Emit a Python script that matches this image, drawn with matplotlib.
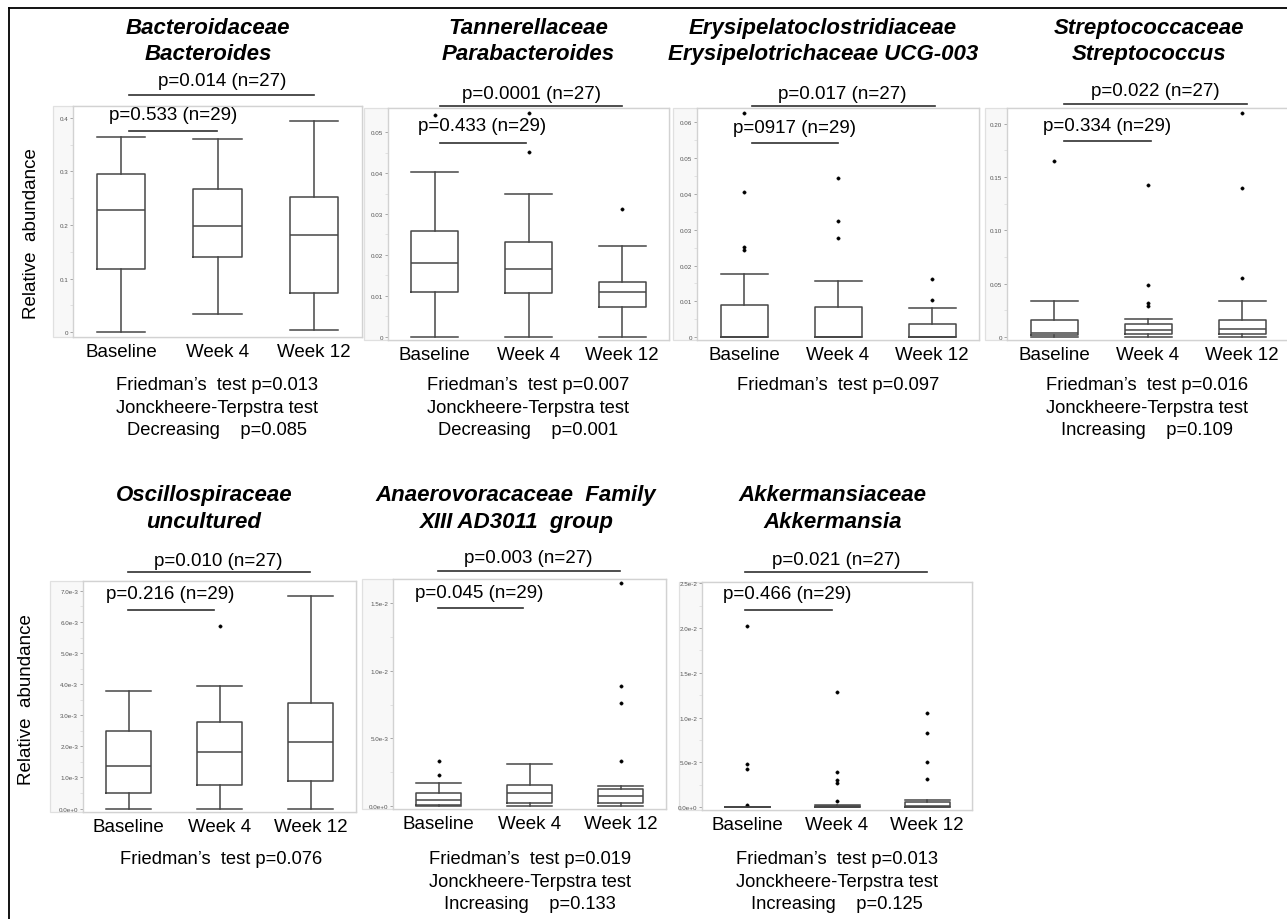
import matplotlib
matplotlib.use("Agg")
import matplotlib.pyplot as plt
import matplotlib.transforms as mtransforms
from matplotlib.lines import Line2D
from matplotlib.patches import Rectangle
from matplotlib.ticker import FixedLocator, FixedFormatter

plt.rcParams['font.family'] = ['Liberation Sans', 'DejaVu Sans']

W, H = 1287, 920

groups = ["Baseline", "Week 4", "Week 12"]

# five-number summaries per group: [low whisker, Q1, median, Q3, high whisker]
bacteroides_box = [[0.0, 0.118, 0.228, 0.295, 0.365],
                   [0.034, 0.141, 0.199, 0.268, 0.361],
                   [0.004, 0.073, 0.181, 0.253, 0.395]]
bacteroides_out = [[], [], []]

parabacteroides_box = [[0.0, 0.0109, 0.0179, 0.0259, 0.0403],
                       [0.0, 0.0106, 0.0166, 0.0231, 0.0348],
                       [0.0, 0.0073, 0.0109, 0.0134, 0.0222]]
parabacteroides_out = [[0.0543], [0.0451, 0.0546], [0.0311]]

ucg003_box = [[0.0, 0.0, 0.0, 0.0090, 0.0175],
              [0.0, 0.0, 0.0, 0.0085, 0.0156],
              [0.0, 0.0, 0.0, 0.0036, 0.0080]]
ucg003_out = [[0.0244, 0.0252, 0.0404, 0.0627], [0.0276, 0.0323, 0.0444], [0.0104, 0.0162]]

streptococcus_box = [[0.0, 0.0016, 0.0041, 0.0157, 0.0336],
                     [0.0, 0.0032, 0.0063, 0.0126, 0.0169],
                     [0.0, 0.0032, 0.0079, 0.0160, 0.0338]]
streptococcus_out = [[0.165], [0.0291, 0.0317, 0.0492, 0.143], [0.0558, 0.1397, 0.2103]]

uncultured_box = [[0.0, 0.50e-3, 1.37e-3, 2.49e-3, 3.78e-3],
                  [0.0, 0.77e-3, 1.83e-3, 2.78e-3, 3.93e-3],
                  [0.0, 0.89e-3, 2.14e-3, 3.38e-3, 6.84e-3]]
uncultured_out = [[], [5.88e-3], []]

ad3011_box = [[0.0, 0.07e-3, 0.40e-3, 0.92e-3, 1.68e-3],
              [0.0, 0.20e-3, 0.94e-3, 1.53e-3, 3.07e-3],
              [0.0, 0.20e-3, 0.70e-3, 1.24e-3, 1.48e-3]]
ad3011_out = [[2.30e-3, 3.33e-3], [], [3.29e-3, 7.63e-3, 8.89e-3, 16.5e-3]]

akkermansia_box = [[0.0, 0.0, 0.0, 0.0, 0.0],
                   [0.0, 0.0, 0.05e-3, 0.15e-3, 0.2e-3],
                   [0.0, 0.02e-3, 0.15e-3, 0.5e-3, 0.75e-3]]
akkermansia_out = [[0.19e-3, 4.2e-3, 4.77e-3, 20.2e-3],
                   [0.67e-3, 2.65e-3, 3.02e-3, 3.96e-3, 12.86e-3],
                   [3.1e-3, 5.08e-3, 8.32e-3, 10.45e-3]]

titles = [("Bacteroidaceae", "Bacteroides"),
          ("Tannerellaceae", "Parabacteroides"),
          ("Erysipelatoclostridiaceae", "Erysipelotrichaceae UCG-003"),
          ("Streptococcaceae", "Streptococcus"),
          ("Oscillospiraceae", "uncultured"),
          ("Anaerovoracaceae  Family", "XIII AD3011  group"),
          ("Akkermansiaceae", "Akkermansia")]

p_week12 = ["p=0.014 (n=27)", "p=0.0001 (n=27)", "p=0.017 (n=27)", "p=0.022 (n=27)",
            "p=0.010 (n=27)", "p=0.003 (n=27)", "p=0.021 (n=27)"]
p_week4 = ["p=0.533 (n=29)", "p=0.433 (n=29)", "p=0917 (n=29)", "p=0.334 (n=29)",
           "p=0.216 (n=29)", "p=0.045 (n=29)", "p=0.466 (n=29)"]

test_notes = [["Friedman\u2019s  test p=0.013", "Jonckheere-Terpstra test", "Decreasing    p=0.085"],
              ["Friedman\u2019s  test p=0.007", "Jonckheere-Terpstra test", "Decreasing    p=0.001"],
              ["Friedman\u2019s  test p=0.097"],
              ["Friedman\u2019s  test p=0.016", "Jonckheere-Terpstra test", "Increasing    p=0.109"],
              ["Friedman\u2019s  test p=0.076"],
              ["Friedman\u2019s  test p=0.019", "Jonckheere-Terpstra test", "Increasing    p=0.133"],
              ["Friedman\u2019s  test p=0.013", "Jonckheere-Terpstra test", "Increasing    p=0.125"]]

y_ticks = [[0, 0.1, 0.2, 0.3, 0.4],
           [0, 0.01, 0.02, 0.03, 0.04, 0.05],
           [0, 0.01, 0.02, 0.03, 0.04, 0.05, 0.06],
           [0, 0.05, 0.10, 0.15, 0.20],
           [0, 1e-3, 2e-3, 3e-3, 4e-3, 5e-3, 6e-3, 7e-3],
           [0, 5e-3, 1e-2, 1.5e-2],
           [0, 5e-3, 1e-2, 1.5e-2, 2e-2, 2.5e-2]]
y_ticklabels = [["0", "0.1", "0.2", "0.3", "0.4"],
                ["0", "0.01", "0.02", "0.03", "0.04", "0.05"],
                ["0", "0.01", "0.02", "0.03", "0.04", "0.05", "0.06"],
                ["0", "0.05", "0.10", "0.15", "0.20"],
                ["0.0e+0", "1.0e-3", "2.0e-3", "3.0e-3", "4.0e-3", "5.0e-3", "6.0e-3", "7.0e-3"],
                ["0.0e+0", "5.0e-3", "1.0e-2", "1.5e-2"],
                ["0.0e+0", "5.0e-3", "1.0e-2", "1.5e-2", "2.0e-2", "2.5e-2"]]

boxes = [bacteroides_box, parabacteroides_box, ucg003_box, streptococcus_box,
         uncultured_box, ad3011_box, akkermansia_box]
outliers = [bacteroides_out, parabacteroides_out, ucg003_out, streptococcus_out,
            uncultured_out, ad3011_out, akkermansia_out]

# ---------------- layout (pixels, origin top-left) ----------------
layout = [
    dict(rect=(73, 107, 362, 338), outer=53, ylim=(-0.0093, 0.4224), tx=208, ty=(27, 53),
         p12=(221.7, 82), l12=95.7, p4=(173, 115.7), l4=131.7, lx=(1.08, 1.99, 3.0),
         nx=217, ny=386, ylab=(32, 234)),
    dict(rect=(388, 109, 669, 341), outer=364, ylim=(-0.0008, 0.0559), tx=528, ty=(27, 53),
         p12=(531.7, 94.3), l12=107.3, p4=(482.5, 126.7), l4=144, lx=(1.05, 1.97, 3.0),
         nx=528, ny=386, ylab=None),
    dict(rect=(697, 109, 979, 341), outer=673, ylim=(-0.0008, 0.064), tx=823, ty=(27, 53),
         p12=(842.5, 94.3), l12=107.3, p4=(794.2, 128.3), l4=144, lx=(1.09, 2.0, 3.03),
         nx=838, ny=386, ylab=None),
    dict(rect=(1007, 109, 1289, 341), outer=985, ylim=(-0.0028, 0.2148), tx=1149, ty=(27, 53),
         p12=(1155.8, 91.7), l12=105, p4=(1106.7, 126.7), l4=141.7, lx=(1.11, 2.03, 3.05),
         nx=1146.7, ny=386, ylab=None),
    dict(rect=(83, 582, 356, 813), outer=50, ylim=(-0.11e-3, 7.32e-3), tx=204, ty=(494, 521),
         p12=(218.3, 561.7), l12=573.3, p4=(170, 595), l4=611, lx=(0.99, 1.94, 2.99),
         nx=220.8, ny=859.3, ylab=(27, 700)),
    dict(rect=(393, 580, 666, 810), outer=362, ylim=(-0.24e-3, 16.8e-3), tx=515.8, ty=(494, 521),
         p12=(528.3, 558.3), l12=572.3, p4=(479.2, 594), l4=609, lx=(0.99, 1.93, 2.99),
         nx=530.3, ny=860, ylab=None),
    dict(rect=(702, 583, 972, 811), outer=679, ylim=(-0.34e-3, 25.15e-3), tx=832.5, ty=(494, 521),
         p12=(836.2, 560.7), l12=573.3, p4=(787.2, 595), l4=611, lx=(0.98, 1.94, 3.0),
         nx=836.7, ny=860, ylab=None),
]

fig = plt.figure(figsize=(W / 100, H / 100), dpi=100)
fig.patch.set_facecolor("white")


def fx(x):
    return x / W


def fy(y):
    return 1 - y / H


LINE_C = "#474747"
SPINE_C = "#d2d2d2"

for i, lay in enumerate(layout):
    L, T, R, B = lay["rect"]
    # light outer frame covering the tick-label strip
    fig.patches.append(Rectangle((fx(lay["outer"]), fy(B)), fx(R) - fx(lay["outer"]), fy(T) - fy(B),
                                 transform=fig.transFigure, facecolor="#f8f8f8",
                                 edgecolor="#e0e0e0", lw=0.9, zorder=-5))
    ax = fig.add_axes([fx(L), fy(B), fx(R) - fx(L), fy(T) - fy(B)])
    ax.set_facecolor("white")

    stats = []
    for g, (bx, fl) in enumerate(zip(boxes[i], outliers[i])):
        lo, q1, med, q3, hi = bx
        stats.append(dict(label=groups[g], whislo=lo, q1=q1, med=med, q3=q3, whishi=hi, fliers=fl))
    ax.bxp(stats, positions=[1, 2, 3], widths=0.5, capwidths=0.5, showfliers=True,
           boxprops=dict(color=LINE_C, lw=1.1),
           whiskerprops=dict(color=LINE_C, lw=1.1),
           capprops=dict(color=LINE_C, lw=1.1),
           medianprops=dict(color=LINE_C, lw=1.1),
           flierprops=dict(marker="o", markersize=2.4, markerfacecolor="black",
                           markeredgecolor="black", markeredgewidth=0.3))

    ax.set_xlim(0.5, 3.5)
    ax.set_ylim(*lay["ylim"])
    ax.yaxis.set_major_locator(FixedLocator(y_ticks[i]))
    ax.yaxis.set_major_formatter(FixedFormatter(y_ticklabels[i]))
    t = y_ticks[i]
    ax.yaxis.set_minor_locator(FixedLocator([(a + b) / 2 for a, b in zip(t[:-1], t[1:])]))
    ax.tick_params(axis="y", which="major", labelsize=4.5, labelcolor="#555555",
                   color="#9a9a9a", length=2.5, width=0.6, pad=1)
    ax.tick_params(axis="y", which="minor", color="#d8d8d8", length=2, width=0.5)
    ax.tick_params(axis="x", length=0, labelsize=13.5, pad=4.5)
    for s in ax.spines.values():
        s.set_color(SPINE_C)
        s.set_linewidth(1.0)

    # titles
    for k, line in enumerate(titles[i]):
        fig.text(fx(lay["tx"]), fy(lay["ty"][k] + 1.5), line, ha="center", va="center",
                 fontsize=16, fontweight="bold", fontstyle="italic")

    # pairwise comparisons
    blend = mtransforms.blended_transform_factory(ax.transData, fig.transFigure)
    x0, x4, x12 = lay["lx"]
    ax.plot([x0, x12], [fy(lay["l12"])] * 2, transform=blend, clip_on=False, color="#303030", lw=1.2)
    ax.plot([x0, x4], [fy(lay["l4"])] * 2, transform=blend, clip_on=False, color="#303030", lw=1.2)
    fig.text(fx(lay["p12"][0]), fy(lay["p12"][1]), p_week12[i], ha="center", va="center", fontsize=13.5)
    fig.text(fx(lay["p4"][0]), fy(lay["p4"][1]), p_week4[i], ha="center", va="center", fontsize=13.5)

    # test notes
    for k, line in enumerate(test_notes[i]):
        fig.text(fx(lay["nx"]), fy(lay["ny"] + 22.3 * k), line, ha="center", va="center", fontsize=13.2)

    if lay["ylab"] is not None:
        fig.text(fx(lay["ylab"][0]), fy(lay["ylab"][1]), "Relative  abundance", rotation=90,
                 ha="center", va="center", fontsize=13.5)

# outer figure frame (left and top edges visible)
fig.lines.append(Line2D([fx(9.3), fx(9.3)], [0, fy(9.3)], transform=fig.transFigure, color="black", lw=1.3))
fig.lines.append(Line2D([fx(9.3), 1], [fy(9.3), fy(9.3)], transform=fig.transFigure, color="black", lw=1.3))

fig.savefig("out.png", dpi=100, facecolor="white")
